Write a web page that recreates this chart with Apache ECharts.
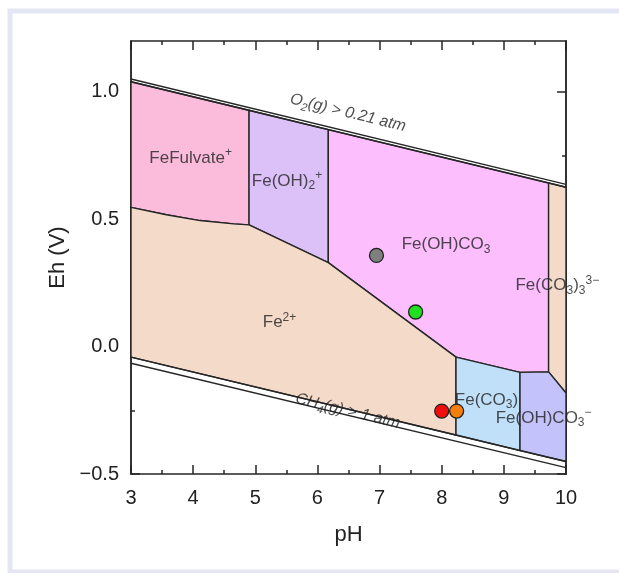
<!DOCTYPE html>
<html>
<head>
<meta charset="utf-8">
<script src="https://cdn.jsdelivr.net/npm/echarts@6/dist/echarts.min.js"></script>
<style>
  html, body { margin: 0; padding: 0; background: #fff; }
  #chart { width: 619px; height: 573px; }
</style>
</head>
<body>
<div id="chart"></div>
<script>
// water stability lines (double lines), [pH, Eh]
const o2Top = [[3, 1.051], [10, 0.637]]
const o2Bottom = [[3, 1.040], [10, 0.626]]
const ch4Top = [[3, -0.041], [10, -0.451]]
const ch4Bottom = [[3, -0.065], [10, -0.475]]

// predominance fields, polygon vertices [pH, Eh]
const fulvate = [[3, 1.040], [4.9, 0.928], [4.9, 0.478], [4.65, 0.482], [4.11, 0.495], [3.57, 0.518], [3, 0.547]]
const feOH2 = [[4.9, 0.928], [6.175, 0.852], [6.175, 0.330], [4.9, 0.478]]
const feOHCO3 = [[6.175, 0.852], [9.72, 0.643], [9.72, -0.099], [9.26, -0.101], [8.23, -0.041], [6.175, 0.330]]
const feCO33 = [[9.72, 0.643], [10, 0.626], [10, -0.182], [9.72, -0.099]]
const fe2 = [[3, 0.547], [3.57, 0.518], [4.11, 0.495], [4.65, 0.482], [4.9, 0.478], [6.175, 0.330], [8.23, -0.041], [8.23, -0.347], [3, -0.041]]
const feCO3 = [[8.23, -0.041], [9.26, -0.101], [9.26, -0.408], [8.23, -0.347]]
const feOHCO3m = [[9.26, -0.101], [9.72, -0.099], [10, -0.182], [10, -0.451], [9.26, -0.408]]

// sample points
const samplePH = [6.95, 7.58, 8.0, 8.24]
const sampleEh = [0.358, 0.136, -0.253, -0.253]
const sampleColors = ['#7f7f7f', '#1fe01f', '#f20d0d', '#f57f0a']

// field labels
const labelText = [
  '{n|FeFulvate}{sup|+}',
  '{n|Fe(OH)}{sub|2}{sup|+}',
  '{n|Fe(OH)CO}{sub|3}',
  '{n|Fe(CO}{sub|3}{n|)}{sub|3}{sup|3\u2212}',
  '{n|Fe}{sup|2+}',
  '{n|Fe(CO}{sub|3}{n|)}',
  '{n|Fe(OH)CO}{sub|3}{sup|\u2212}'
]
const labelPH = [3.96, 5.51, 8.07, 9.86, 5.39, 8.72, 9.64]
const labelEh = [0.741, 0.651, 0.40, 0.24, 0.095, -0.21, -0.28]

// rotated water-line labels
const lineText = ['{i|O}{isub|2}{i|(g) > 0.21 atm}', '{i|CH}{isub|4}{i|(g) > 1 atm}']
const linePH = [6.49, 6.49]
const lineEh = [0.918, -0.253]

const yMajor = [-0.5, 0, 0.5, 1.0]
const yMinor = [-0.25, 0.25, 0.75]

const fieldColors = {
    fulvate: '#fbbcdc',
    feOH2: '#dcc0f8',
    feOHCO3: '#fcbefc',
    feCO33: '#f4dac8',
    fe2: '#f4dac8',
    feCO3: '#c0e0fa',
    feOHCO3m: '#c3c2fb'
}

const ink = '#262626'
const font = 'Liberation Sans, Arial, Helvetica, sans-serif'

function field(pts, color) {
    return {
        type: 'custom',
        coordinateSystem: 'cartesian2d',
        data: pts,
        encode: { x: 0, y: 1 },
        silent: true,
        z: 1,
        renderItem: (params, api) => {
            if (params.dataIndex !== 0) return null
            return {
                type: 'polygon',
                shape: { points: pts.map(p => api.coord(p)) },
                style: { fill: color, stroke: ink, lineWidth: 1.4, lineJoin: 'round' }
            }
        }
    }
}

function waterLine(pts) {
    return {
        type: 'line',
        data: pts,
        symbol: 'none',
        silent: true,
        z: 3,
        lineStyle: { color: ink, width: 1.4 }
    }
}

const rich = {
    n: { fontSize: 17, color: '#222', fontFamily: font, lineHeight: 22 },
    sub: { fontSize: 12, color: '#222', fontFamily: font, lineHeight: 13, verticalAlign: 'bottom' },
    sup: { fontSize: 12, color: '#222', fontFamily: font, lineHeight: 13, verticalAlign: 'top' },
    i: { fontSize: 16, color: '#222', fontFamily: font, fontStyle: 'italic', lineHeight: 22 },
    isub: { fontSize: 11, color: '#222', fontFamily: font, fontStyle: 'italic', lineHeight: 12, verticalAlign: 'bottom' }
}

function yAxisCfg(pos, values, len, labels) {
    return {
        type: 'value',
        min: -0.5,
        max: 1.2,
        position: pos,
        axisLine: { show: true, onZero: false, lineStyle: { color: ink, width: 1.5 } },
        axisTick: { show: true, inside: true, length: len, customValues: values, lineStyle: { color: ink, width: 1.5 } },
        axisLabel: {
            show: labels,
            customValues: values,
            margin: 12,
            fontSize: 20,
            color: '#222',
            fontFamily: font,
            formatter: v => v.toFixed(1).replace('-', '\u2212')
        },
        splitLine: { show: false },
        name: labels && pos === 'left' ? 'Eh (V)' : '',
        nameLocation: 'middle',
        nameGap: 62,
        nameTextStyle: { fontSize: 22, color: '#222', fontFamily: font }
    }
}

function xAxisCfg(pos, labels) {
    return {
        type: 'value',
        min: 3,
        max: 10,
        interval: 1,
        position: pos,
        axisLine: { show: true, onZero: false, lineStyle: { color: ink, width: 1.5 } },
        axisTick: { show: true, inside: true, length: 9, lineStyle: { color: ink, width: 1.5 } },
        minorTick: { show: true, splitNumber: 2, length: 4, lineStyle: { color: ink, width: 1.5 } },
        axisLabel: { show: labels, margin: 14, fontSize: 20, color: '#222', fontFamily: font },
        splitLine: { show: false },
        minorSplitLine: { show: false },
        name: labels ? 'pH' : '',
        nameLocation: 'middle',
        nameGap: 50,
        nameTextStyle: { fontSize: 22, color: '#222', fontFamily: font }
    }
}

const frameStyle = { stroke: '#e4e7f3', lineWidth: 5 }

const chart = echarts.init(document.getElementById('chart'))
chart.setOption({
    backgroundColor: '#fff',
    animation: false,
    graphic: [{
        type: 'polyline',
        shape: { points: [[619, 11], [10, 11], [10, 572], [619, 572]] },
        style: frameStyle,
        silent: true,
        z: -10
    }],
    grid: { left: 131, right: 53, top: 41, bottom: 99 },
    xAxis: [xAxisCfg('bottom', true), xAxisCfg('top', false)],
    yAxis: [
        yAxisCfg('left', yMajor, 9, true),
        yAxisCfg('left', yMinor, 4, false),
        yAxisCfg('right', yMajor, 9, false),
        yAxisCfg('right', yMinor, 4, false)
    ],
    series: [
        field(fulvate, fieldColors.fulvate),
        field(feOH2, fieldColors.feOH2),
        field(feOHCO3, fieldColors.feOHCO3),
        field(feCO33, fieldColors.feCO33),
        field(fe2, fieldColors.fe2),
        field(feCO3, fieldColors.feCO3),
        field(feOHCO3m, fieldColors.feOHCO3m),
        waterLine(o2Top),
        waterLine(o2Bottom),
        waterLine(ch4Top),
        waterLine(ch4Bottom),
        {
            type: 'scatter',
            z: 5,
            symbolSize: 14,
            silent: true,
            data: samplePH.map((p, i) => ({
                value: [p, sampleEh[i]],
                itemStyle: { color: sampleColors[i], borderColor: '#222', borderWidth: 1.3, opacity: 1 }
            }))
        },
        {
            type: 'scatter',
            z: 6,
            symbolSize: 0,
            silent: true,
            data: labelPH.map((p, i) => ({
                value: [p, labelEh[i]],
                label: { show: true, position: 'inside', formatter: labelText[i], rich }
            }))
        },
        {
            type: 'scatter',
            z: 6,
            symbolSize: 0,
            silent: true,
            data: linePH.map((p, i) => ({
                value: [p, lineEh[i]],
                label: { show: true, position: 'inside', rotate: -13.7, formatter: lineText[i], rich }
            }))
        }
    ]
})
window.addEventListener('resize', () => {
    chart.resize()
})
</script>
</body>
</html>
